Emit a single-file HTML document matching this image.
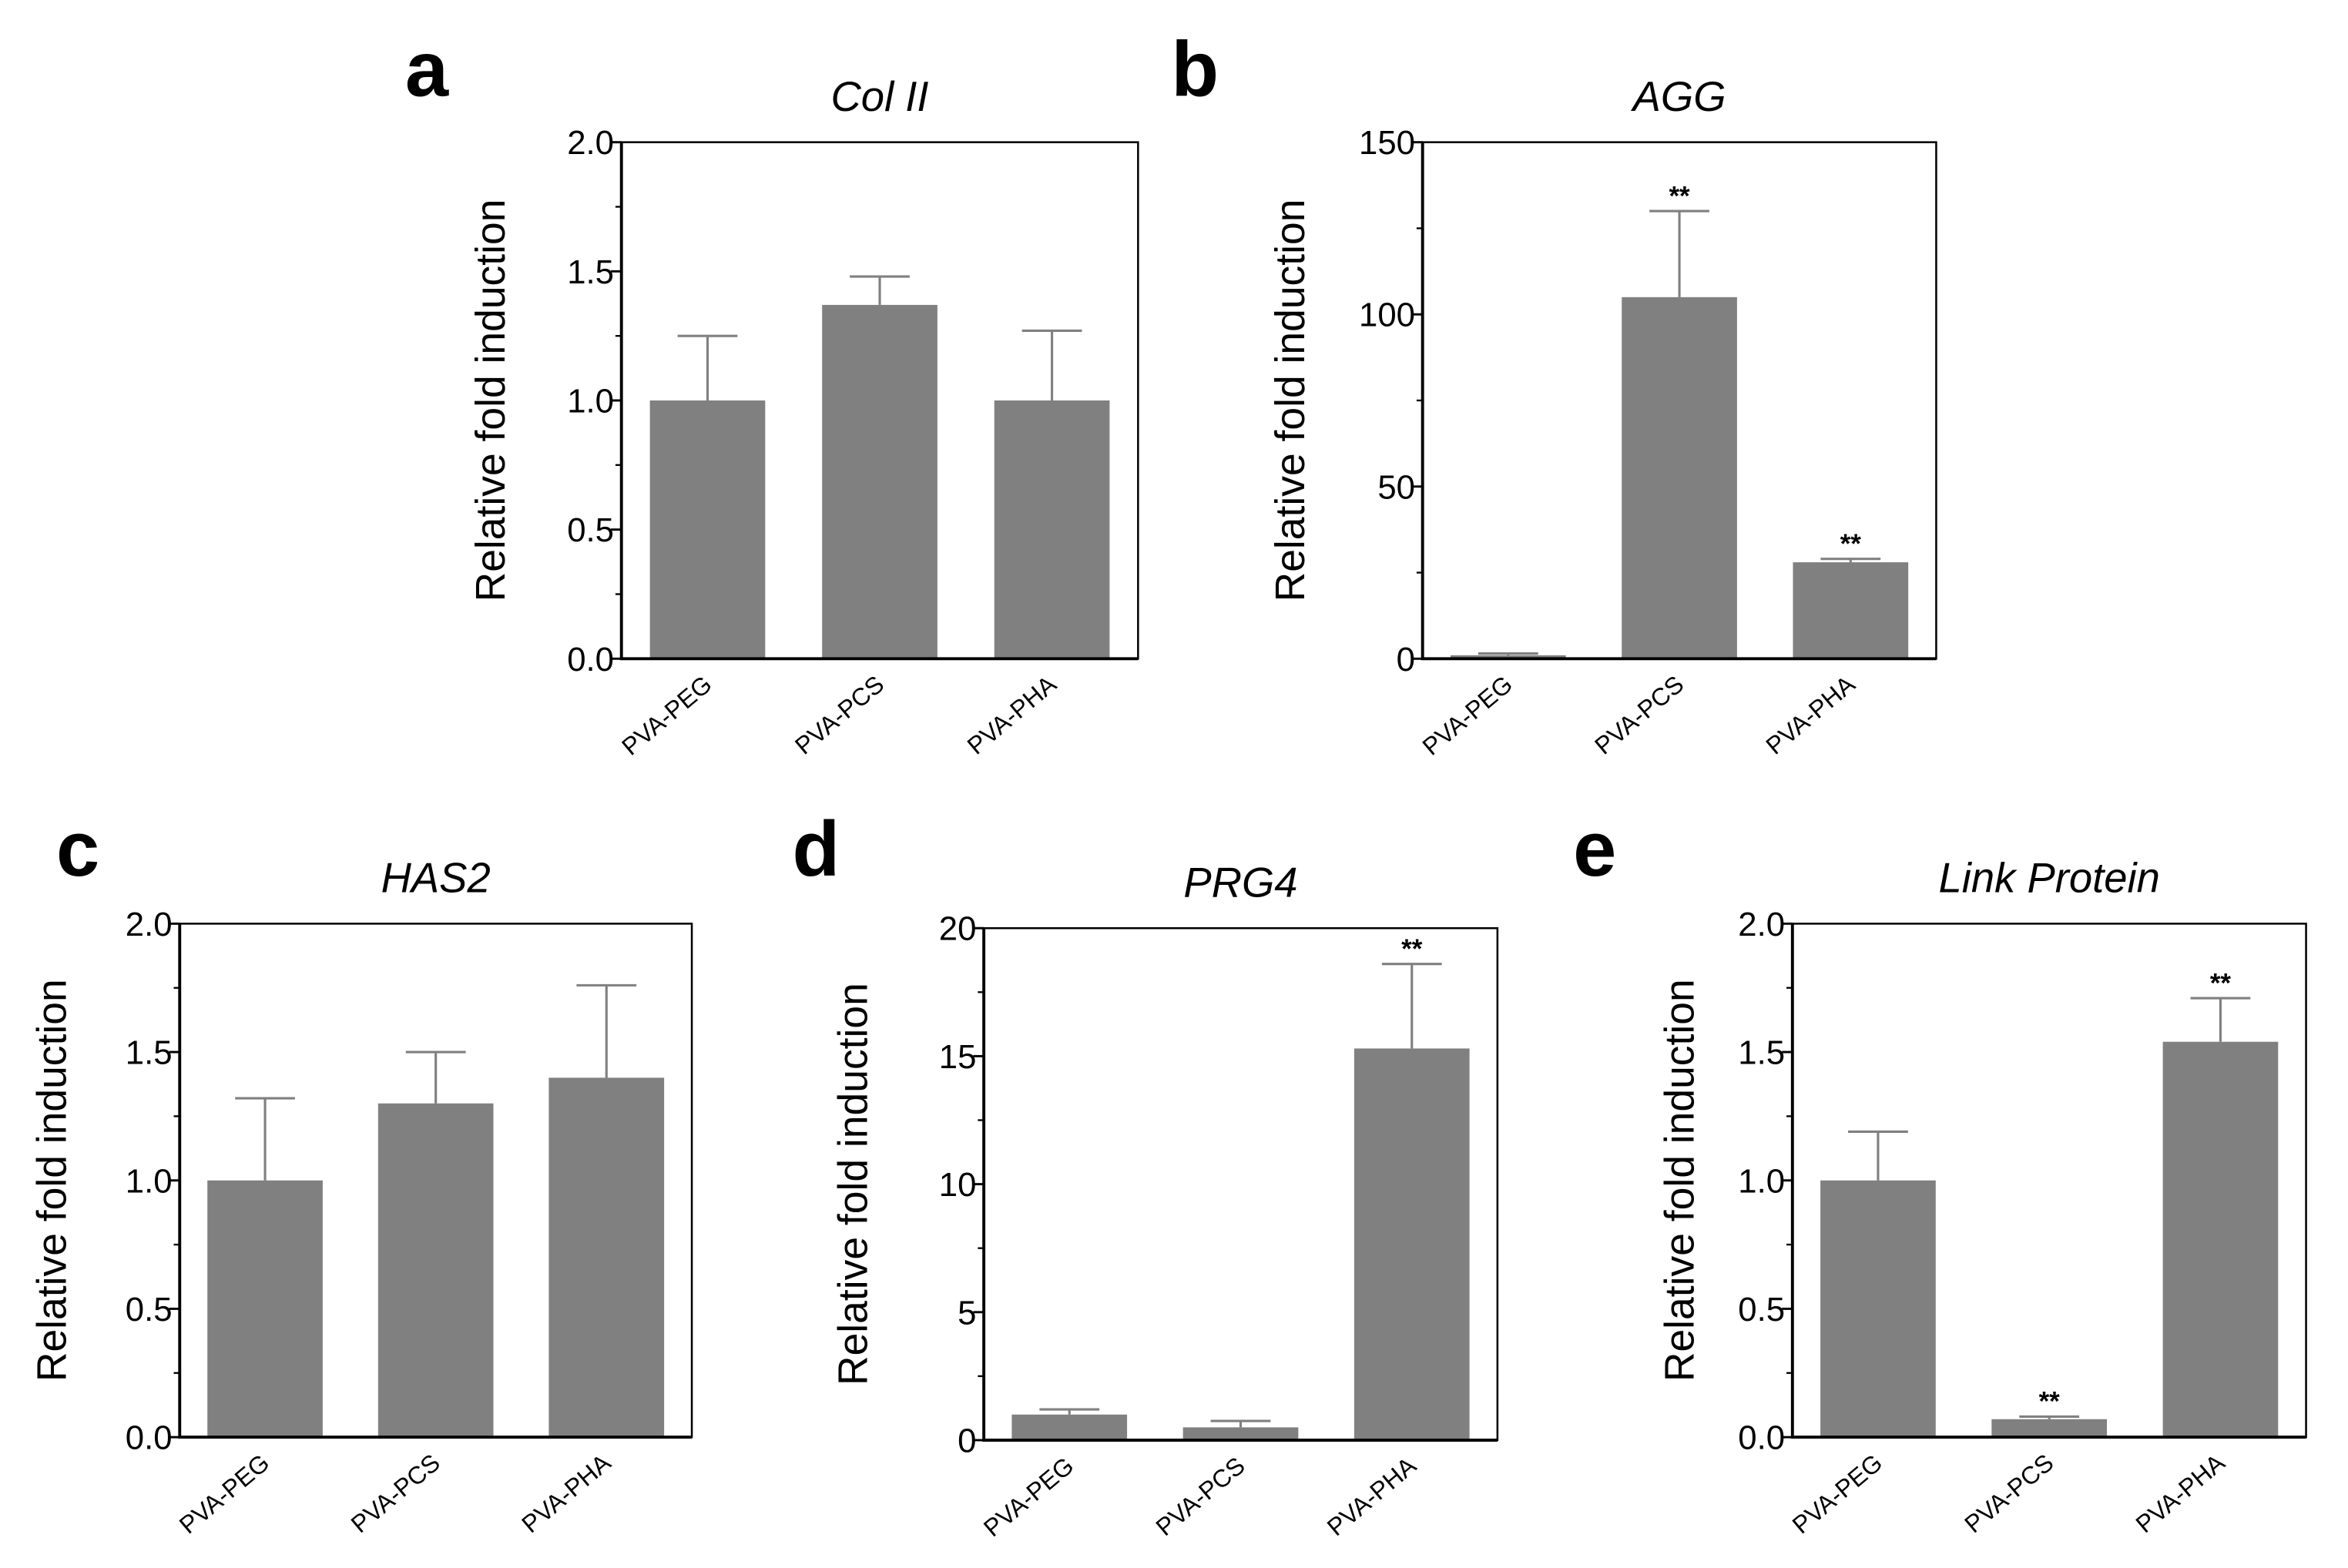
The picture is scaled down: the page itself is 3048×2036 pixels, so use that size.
<!DOCTYPE html>
<html><head><meta charset="utf-8">
<style>
html,body{margin:0;padding:0;background:#fff;}
svg{display:block;font-family:"Liberation Sans",Arial,sans-serif;}
</style></head>
<body>
<svg id="fig" width="3048" height="2036" viewBox="0 0 1568 1047.4" preserveAspectRatio="none" xmlns="http://www.w3.org/2000/svg"></svg>
<script>
const categories = ["PVA-PEG","PVA-PCS","PVA-PHA"];
const colIIValues = [1.0, 1.37, 1.0];
const colIIErrors = [1.25, 1.48, 1.27];
const aggValues = [1.0, 105, 28];
const aggErrors = [1.5, 130, 29];
const has2Values = [1.0, 1.30, 1.40];
const has2Errors = [1.32, 1.50, 1.76];
const prg4Values = [1.0, 0.5, 15.3];
const prg4Errors = [1.2, 0.75, 18.6];
const linkValues = [1.0, 0.07, 1.54];
const linkErrors = [1.19, 0.08, 1.71];
const ticks2 = [0, 0.5, 1.0, 1.5, 2.0];
const tickLabels2 = ["0.0","0.5","1.0","1.5","2.0"];
const ticks150 = [0, 50, 100, 150];
const tickLabels150 = ["0","50","100","150"];
const ticks20 = [0, 5, 10, 15, 20];
const tickLabels20 = ["0","5","10","15","20"];
const aggSig = [false, true, true];
const prg4Sig = [false, false, true];
const linkSig = [false, true, true];
const noSig = [false, false, false];

const NS = "http://www.w3.org/2000/svg";
const svg = document.getElementById('fig');
function mk(tag, attrs, parent, text){
  const e = document.createElementNS(NS, tag);
  for (const k in attrs) e.setAttribute(k, attrs[k]);
  if (text !== undefined) e.textContent = text;
  (parent||svg).appendChild(e);
  return e;
}

function panel(cfg){
  const g = mk('g', {});
  
  
  const L=cfg.L, R=cfg.R, T=cfg.T, B=cfg.B;
  const ymax = cfg.ticks[cfg.ticks.length-1];
  const yS = v => B - (v/ymax)*(B-T);
  const band = (R-L)/categories.length;
  const xS = i => L + (i+0.5)*band;
  const bw = 77;

  const letter = mk('text', {x:cfg.lx, y:cfg.ly, 'font-size':52, 'font-weight':'bold', 'text-anchor':'middle'}, g, cfg.letter);
  
  
  const title = mk('text', {x:(L+R)/2, y:T-21, 'font-size':28, 'font-style':'italic', 'text-anchor':'middle'}, g, cfg.title);
  
  

  cfg.values.forEach((v,i)=>{
    const cx = xS(i);
    const err = mk('path', {d:`M${cx} ${yS(v)} V${yS(cfg.errors[i])} M${cx-20} ${yS(cfg.errors[i])} H${cx+20}`, stroke:'#808080', 'stroke-width':1.6, fill:'none'}, g);
    
    
    const bar = mk('rect', {x:cx-bw/2, y:yS(v), width:bw, height:B-yS(v), fill:'#808080'}, g);
    
    
    if (cfg.sig[i]) {
      const s = mk('text', {x:cx, y:yS(cfg.errors[i])-4, 'font-size':18, 'font-weight':'bold', 'text-anchor':'middle'}, g, '**');
      
      
    }
    const lab = mk('text', {x:0, y:0, 'font-size':16.5, 'text-anchor':'end', transform:`translate(${cx+4},${B+19}) rotate(-40)`}, g, categories[i]);
    
    
  });

  const fr = mk('rect', {x:L, y:T, width:R-L, height:B-T, fill:'none', stroke:'#000', 'stroke-width':1.3}, g);
  
  
  const ax = mk('path', {d:`M${L} ${T} V${B} H${R}`, fill:'none', stroke:'#000', 'stroke-width':2}, g);
  
  

  cfg.ticks.forEach((t,k)=>{
    const y = yS(t);
    mk('line', {x1:L-7, x2:L, y1:y, y2:y, stroke:'#000', 'stroke-width':1.5}, g);
    const tl = mk('text', {x:L-5, y:y+8, 'font-size':22.5, 'text-anchor':'end'}, g, cfg.labels[k]);
    
    
    if (k < cfg.ticks.length-1) {
      const ym = yS((t + cfg.ticks[k+1])/2);
      mk('line', {x1:L-4, x2:L, y1:ym, y2:ym, stroke:'#000', 'stroke-width':1.2}, g);
    }
  });
  const yt = mk('text', {x:0, y:0, 'font-size':27.5, 'text-anchor':'middle', transform:`translate(${cfg.yx},${(T+B)/2}) rotate(-90)`}, g, 'Relative fold induction');
  
  
}

panel({letter:'a', lx:285, ly:64, title:'Col II', L:415, R:760, T:95, B:440, values:colIIValues, errors:colIIErrors, ticks:ticks2, labels:tickLabels2, sig:noSig, yx:337});
panel({letter:'b', lx:798, ly:64, title:'AGG', L:950, R:1293, T:95, B:440, values:aggValues, errors:aggErrors, ticks:ticks150, labels:tickLabels150, sig:aggSig, yx:871});
panel({letter:'c', lx:52, ly:585, title:'HAS2', L:120, R:462, T:617, B:960, values:has2Values, errors:has2Errors, ticks:ticks2, labels:tickLabels2, sig:noSig, yx:44});
panel({letter:'d', lx:545, ly:585, title:'PRG4', L:657, R:1000, T:620, B:962, values:prg4Values, errors:prg4Errors, ticks:ticks20, labels:tickLabels20, sig:prg4Sig, yx:579});
panel({letter:'e', lx:1065, ly:585, title:'Link Protein', L:1197, R:1540, T:617, B:960, values:linkValues, errors:linkErrors, ticks:ticks2, labels:tickLabels2, sig:linkSig, yx:1131});
</script>
</body></html>
